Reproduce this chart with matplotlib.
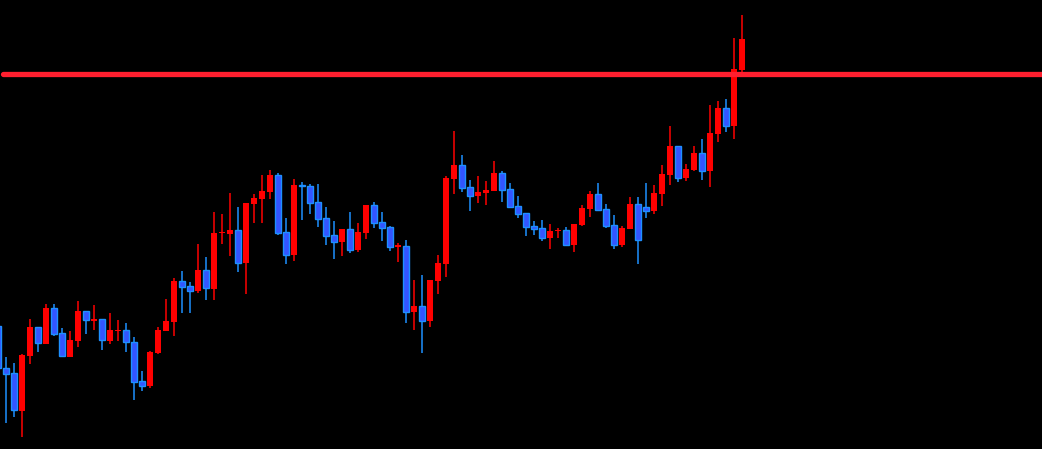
import matplotlib
matplotlib.use("Agg")
import matplotlib.pyplot as plt
import numpy as np

''' OHLC data (read from the reference, arbitrary price units) '''
opens = [123, 80.7, 75.7, 38.3, 93.3, 121.7, 105.3, 140.7, 115.7, 92.3,
         108.3, 137.7, 128.3, 129.7, 108.3, 118.3, 118.7, 106.7, 67.7, 63.3,
         96, 118, 127.3, 168, 163, 158.3, 179, 160, 216, 215.3,
         218.7, 186.3, 245.3, 250.3, 257.3, 274, 217, 194.3, 264, 263,
         247, 231, 214, 207.3, 220, 199.3, 216.3, 244, 227, 222,
         202.5, 203, 137.3, 143, 128.3, 168.3, 185.3, 270.3, 284, 262,
         253.3, 256.3, 258.3, 276, 260, 243, 236, 223, 221, 211.3,
         218, 219, 204.3, 224, 240, 255, 240, 224, 204, 220,
         245, 242, 238, 255.3, 274.3, 303, 271.3, 279.3, 296, 278.3,
         315.3, 341, 323.3, 379.3]
highs = [123, 92, 86, 95, 129.7, 121.7, 145, 145, 121, 118,
         148, 137.7, 144, 129.7, 136, 129, 126, 111.7, 78, 98,
         121.7, 150, 171, 178, 167, 205, 191.7, 237, 235, 256,
         242, 246, 255, 274, 279, 276, 231, 270, 267, 265,
         265, 242, 228, 220, 237, 226, 244, 247, 237, 223,
         206, 209, 169, 174, 169, 194, 273, 318, 294, 269,
         273, 268, 288, 278, 266, 253, 236, 228, 229, 225,
         221, 222, 225, 244, 258, 266, 245, 234, 223, 252,
         252, 266, 264, 284, 323, 303, 285, 303, 310, 344,
         348, 350, 411, 434]
lows = [81, 26.3, 32.3, 12.3, 85.3, 97.3, 105.3, 113.3, 92.7, 92.3,
        102.3, 115.3, 119.3, 99.3, 105.3, 108.3, 97.3, 49, 58.3, 61.3,
        95.3, 118, 113.3, 136.3, 136.3, 156.3, 149, 149, 205, 193,
        177.3, 155.3, 226.3, 226.3, 250.3, 214.3, 185.3, 188.3, 229.3, 235.3,
        222.3, 204.3, 190.3, 193.3, 196.3, 197.3, 210.3, 221.3, 208.3, 198.3,
        187.3, 126.3, 119.3, 96.3, 122.3, 155.3, 172.3, 255.3, 257.3, 238.3,
        246.3, 244.3, 258.3, 247.3, 242.3, 231.3, 213.3, 214.3, 208.3, 200.3,
        211.3, 204.3, 197.3, 223, 232, 239.3, 221, 200.3, 202.3, 220,
        185, 231.3, 235, 243.3, 264.3, 267.3, 268.3, 278.3, 269.3, 262.3,
        307.3, 317.3, 310.3, 377.3]
closes = [81, 75.3, 38.7, 93.7, 121.7, 105.7, 141, 115.3, 92.7, 108.7,
          137.7, 128.7, 130, 108.7, 118.7, 118.9, 106.7, 67.3, 63.3, 97,
          119, 128, 168, 162.3, 158.3, 179.3, 160.7, 216, 216.5, 219,
          186.3, 246, 251, 258, 274, 216.3, 194.3, 264, 262.7, 246.3,
          230.3, 213.3, 207.3, 220, 199.3, 217, 244, 226.3, 221.3, 202.3,
          203, 137.3, 143, 128.3, 169, 186, 271, 284, 261.3, 253.3,
          257, 259, 276, 259.3, 242.3, 235.3, 222.3, 220.3, 211.3, 218,
          218.5, 204.3, 225, 241, 255, 239.3, 223, 204, 221, 245,
          209, 238.3, 256, 275, 303, 271.3, 280, 296, 278.3, 316,
          341, 323.3, 380, 410]
level = 375   # horizontal resistance line

''' Cores '''
up_color = "#ff0000"
down_fill = "#3355ff"
down_edge = "#1e90ff"
line_color = "#ff1f2f"

o = np.array(opens); h = np.array(highs); l = np.array(lows); c = np.array(closes)
x = np.arange(len(o)) - 1   # first candle is cut by the left edge

fig = plt.figure(figsize=(10.42, 4.49), dpi=100, facecolor="black")
ax = fig.add_axes([0, 0, 1, 1], facecolor="black")

up = c >= o
down = ~up
min_h = 1.2

# wicks
ax.vlines(x[up], l[up], h[up], color=up_color, linewidth=1.1, zorder=2)
ax.vlines(x[down], l[down], h[down], color=down_edge, linewidth=1.1, zorder=2)

# bodies
bw = 0.68
body_up = np.maximum(c[up] - o[up], min_h)
ax.bar(x[up], body_up, bottom=o[up], width=bw, color=up_color,
       linewidth=0, zorder=3)
body_dn = np.maximum(o[down] - c[down], min_h)
ax.bar(x[down], body_dn, bottom=c[down], width=bw, color=down_fill,
       edgecolor=down_edge, linewidth=1.0, zorder=3)

# resistance line
ax.plot([-0.4, 140], [level, level], color=line_color, linewidth=3.8,
        solid_capstyle="round", zorder=4)

ax.set_xlim(-0.75, 129.5)
ax.set_ylim(0, 449)
ax.axis("off")

fig.savefig("out.png", dpi=100, facecolor="black")
